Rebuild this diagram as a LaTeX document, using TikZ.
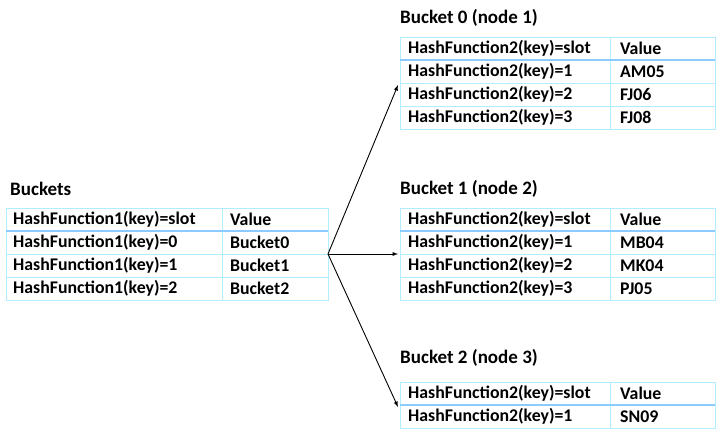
\documentclass[tikz,border=0pt]{standalone}
\usepackage{fontspec}
\setmainfont{Carlito}
\begin{document}
\begin{tikzpicture}[x=1pt,y=-1pt,
  cell/.style={anchor=west,inner sep=0pt,font=\bfseries\fontsize{17.8}{18}\selectfont},
  title/.style={anchor=west,inner sep=0pt,font=\bfseries\fontsize{19}{20}\selectfont},
  grid/.style={draw=blue!25!cyan!30,line width=0.8pt},
  thick/.style={draw=blue!45!cyan!45,line width=1.8pt},
  arr/.style={-latex,line width=0.9pt}]
\useasboundingbox (0,0) rectangle (716,429);
\newcommand\mytbl[5]{%
  \pgfmathsetmacro\bot{#4+23*(#5+1)}
  \draw[grid] (#1,#4) rectangle (#2,\bot);
  \draw[grid] (#3,#4) -- (#3,\bot);
  \foreach \r in {2,...,#5}{\draw[grid] (#1,#4+23*\r) -- (#2,#4+23*\r);}
  \draw[thick] (#1,#4+23) -- (#2,#4+23);
}
% left
\node[title] (tb) at (10,189) {Buckets};
\mytbl{6}{328}{222}{208}{3}
\node[cell] (lh) at (13,219.5) {HashFunction1(key)=slot};
\node[cell] (lv) at (230,219.5) {Value};
\node[cell] (l0) at (13,242.5) {HashFunction1(key)=0};
\node[cell] (l0v) at (230,242.5) {Bucket0};
\node[cell] (l1) at (13,265.5) {HashFunction1(key)=1};
\node[cell] (l1v) at (230,265.5) {Bucket1};
\node[cell] (l2) at (13,288.5) {HashFunction1(key)=2};
\node[cell] (l2v) at (230,288.5) {Bucket2};
\coordinate (src) at (328,254);
% bucket 0
\node[title] (t0) at (400,18) {Bucket 0 (node 1)};
\mytbl{400}{715}{610}{37}{3}
\node[cell] (a0) at (408,48.5) {HashFunction2(key)=slot};
\node[cell] (a0v) at (620,48.5) {Value};
\node[cell] (a1) at (408,71.5) {HashFunction2(key)=1};
\node[cell] (a1v) at (620,71.5) {AM05};
\node[cell] (a2) at (408,94.5) {HashFunction2(key)=2};
\node[cell] (a2v) at (620,94.5) {FJ06};
\node[cell] (a3) at (408,117.5) {HashFunction2(key)=3};
\node[cell] (a3v) at (620,117.5) {FJ08};
\coordinate (d0) at (398,85);
% bucket 1
\node[title] (t1) at (400,189) {Bucket 1 (node 2)};
\mytbl{400}{715}{610}{208}{3}
\node[cell] (b0) at (408,219.5) {HashFunction2(key)=slot};
\node[cell] (b0v) at (620,219.5) {Value};
\node[cell] (b1) at (408,242.5) {HashFunction2(key)=1};
\node[cell] (b1v) at (620,242.5) {MB04};
\node[cell] (b2) at (408,265.5) {HashFunction2(key)=2};
\node[cell] (b2v) at (620,265.5) {MK04};
\node[cell] (b3) at (408,288.5) {HashFunction2(key)=3};
\node[cell] (b3v) at (620,288.5) {PJ05};
\coordinate (d1) at (398,254);
% bucket 2
\node[title] (t2) at (400,358) {Bucket 2 (node 3)};
\draw[grid] (400,382) rectangle (715,428);
\draw[grid] (610,382) -- (610,428);
\draw[thick] (400,405) -- (715,405);
\node[cell] (c0) at (408,393.5) {HashFunction2(key)=slot};
\node[cell] (c0v) at (620,393.5) {Value};
\node[cell] (c1) at (408,416.5) {HashFunction2(key)=1};
\node[cell] (c1v) at (620,416.5) {SN09};
\coordinate (d2) at (398,407);
\draw[arr] (src) -- (d0);
\draw[arr] (src) -- (d1);
\draw[arr] (src) -- (d2);
\end{tikzpicture}
\end{document}
